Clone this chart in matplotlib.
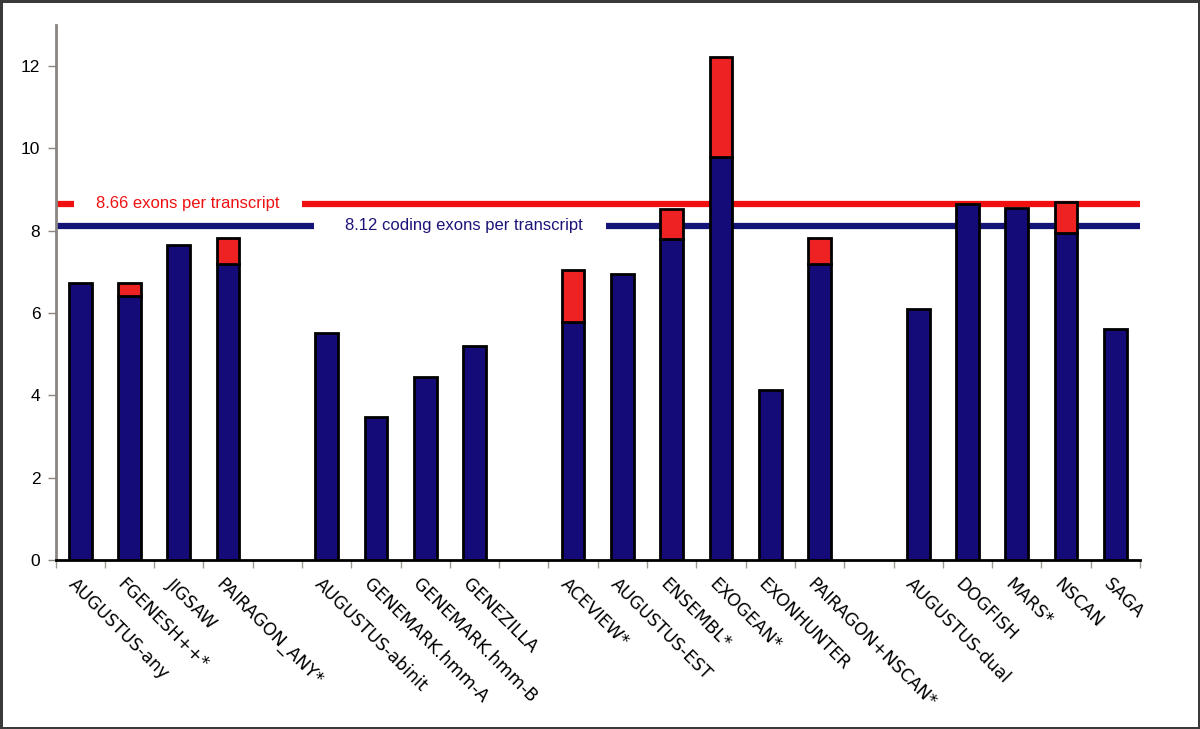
import numpy as np
import matplotlib.pyplot as plt
from matplotlib.transforms import ScaledTranslation

# Gene predictors, grouped (empty string = spacer slot between groups)
labels = ['AUGUSTUS-any', 'FGENESH++*', 'JIGSAW', 'PAIRAGON_ANY*', '',
          'AUGUSTUS-abinit', 'GENEMARK.hmm-A', 'GENEMARK.hmm-B', 'GENEZILLA', '',
          'ACEVIEW*', 'AUGUSTUS-EST', 'ENSEMBL*', 'EXOGEAN*', 'EXONHUNTER',
          'PAIRAGON+NSCAN*', '',
          'AUGUSTUS-dual', 'DOGFISH', 'MARS*', 'NSCAN', 'SAGA']

# coding exons per transcript (navy part)
coding_exons = [6.73, 6.41, 7.65, 7.18, 0,
                5.51, 3.48, 4.45, 5.21, 0,
                5.78, 6.94, 7.79, 9.80, 4.14, 7.18, 0,
                6.10, 8.66, 8.55, 7.95, 5.61]
# all exons per transcript (top of the red part)
all_exons = [6.73, 6.73, 7.65, 7.83, 0,
             5.51, 3.48, 4.45, 5.21, 0,
             7.05, 6.94, 8.52, 12.23, 4.14, 7.83, 0,
             6.10, 8.66, 8.55, 8.71, 5.61]

ref_all = 8.66
ref_coding = 8.12

navy = '#140a78'
red = '#ee2222'

coding = np.array(coding_exons)
total = np.array(all_exons)
x = np.arange(len(labels))
has_bar = np.array([lab != '' for lab in labels])

fig = plt.figure(figsize=(12, 7.29), dpi=100, edgecolor='#3a3a3a', linewidth=2.5)
ax = fig.add_axes([0.0463, 0.2318, 0.9037, 0.734])

# reference lines (broken where the text sits), drawn under the bars
ax.hlines(ref_all, -0.5, -0.12, color='#f01010', lw=4.5, zorder=1)
ax.hlines(ref_all, 4.5, 21.5, color='#f01010', lw=4.5, zorder=1)
ax.hlines(ref_coding, -0.5, 4.74, color='#141478', lw=4.5, zorder=1)
ax.hlines(ref_coding, 10.67, 21.5, color='#141478', lw=4.5, zorder=1)
ax.text(2.19, ref_all, '8.66 exons per transcript', color='#ee1111',
        fontsize=12, family='Liberation Sans', ha='center', va='center')
ax.text(7.78, ref_coding, '8.12 coding exons per transcript', color='#1c1478',
        fontsize=12, family='Liberation Sans', ha='center', va='center')

width = 0.46
ax.bar(x[has_bar], coding[has_bar], width=width, color=navy,
       edgecolor='black', linewidth=2, zorder=3)
extra = total - coding
red_mask = has_bar & (extra > 0.01)
ax.bar(x[red_mask], extra[red_mask], bottom=coding[red_mask], width=width,
       color=red, edgecolor='black', linewidth=2, zorder=3)

ax.set_xlim(-0.5, len(labels) - 0.5)
ax.set_ylim(0, 13.0)

for side in ['top', 'right']:
    ax.spines[side].set_visible(False)
ax.spines['left'].set_color('#8a8580')
ax.spines['left'].set_linewidth(2)
ax.spines['bottom'].set_color('black')
ax.spines['bottom'].set_linewidth(2)
ax.spines['bottom'].set_zorder(4)

ax.set_yticks(np.arange(0, 13, 2))
ax.tick_params(axis='y', length=6, width=1, color='#8a8580', pad=5)
for lab in ax.get_yticklabels():
    lab.set_fontfamily('Liberation Sans')
    lab.set_fontsize(12.5)

# tick marks between categories, labels at category centres
ax.set_xticks(np.arange(-0.5, len(labels) + 0.5, 1.0), minor=True)
ax.tick_params(axis='x', which='minor', length=6, width=1, color='#a09a95')
ax.set_xticks(x[has_bar])
ax.set_xticklabels([labels[i] for i in x[has_bar]], rotation=-45, ha='left',
                   va='top', rotation_mode='anchor', fontsize=12.5,
                   family='DejaVu Sans')
ax.tick_params(axis='x', which='major', length=0, pad=11)
shift = ScaledTranslation(-3 / 100, 0, fig.dpi_scale_trans)
for lab in ax.get_xticklabels():
    lab.set_transform(lab.get_transform() + shift)

plt.savefig('out.png', dpi=100)
